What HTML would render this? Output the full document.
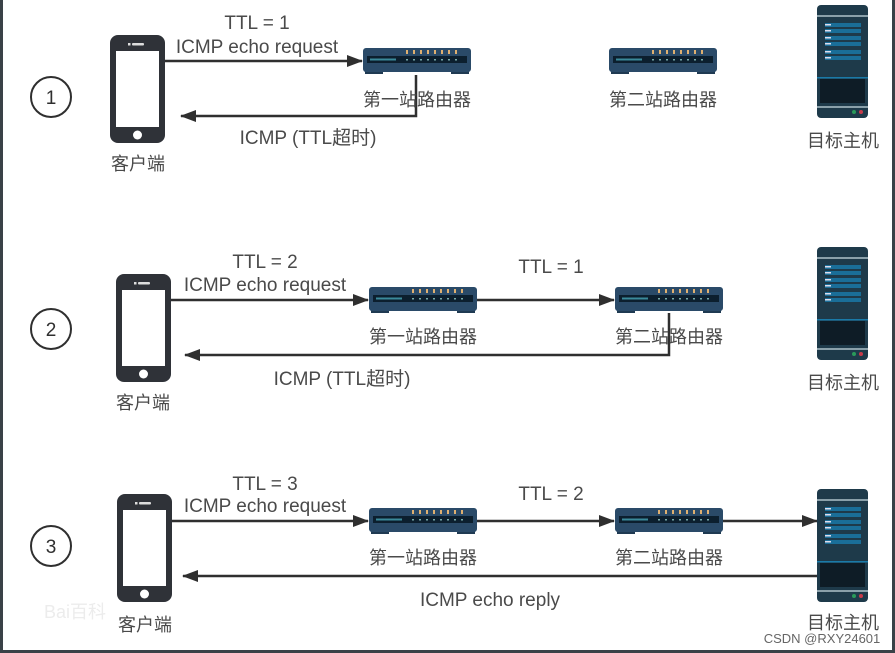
<!DOCTYPE html>
<html><head><meta charset="utf-8"><style>
html,body{margin:0;padding:0;background:#fff;}
svg{display:block;}
text{font-family:"Liberation Sans","Noto Sans CJK SC",sans-serif;fill:#4a4a4a;font-size:18px;}
.l{font-size:19px;}
</style></head><body>
<svg width="895" height="653" viewBox="0 0 895 653" xmlns="http://www.w3.org/2000/svg">
<defs>
<g id="phone">
<rect x="0" y="0" width="55" height="108" rx="8" fill="#2f3238"/>
<rect x="6" y="16" width="43" height="76" fill="#fff"/>
<rect x="22" y="8" width="12" height="2.5" rx="1" fill="#ddd"/>
<rect x="18" y="8" width="2.5" height="2.5" fill="#ddd"/>
<circle cx="27.5" cy="100" r="4.5" fill="#fff"/>
</g>
<g id="router">
<rect x="2" y="24" width="18" height="4" fill="#1f3a52"/>
<rect x="88" y="24" width="18" height="4" fill="#1f3a52"/>
<rect x="0" y="2" width="108" height="24" rx="3" fill="#2a4a68"/>
<rect x="4" y="10" width="100" height="7" fill="#0c1f2e"/>
<rect x="7" y="12.5" width="26" height="2" fill="#3a8a9a"/>
<g fill="#e0b070"><rect x="43" y="4" width="2" height="4"/><rect x="50" y="4" width="2" height="4"/><rect x="57" y="4" width="2" height="4"/><rect x="64" y="4" width="2" height="4"/><rect x="71" y="4" width="2" height="4"/><rect x="78" y="4" width="2" height="4"/><rect x="85" y="4" width="2" height="4"/><rect x="92" y="4" width="2" height="4"/></g>
<g fill="#7aa"><rect x="43" y="13" width="2" height="1.5"/><rect x="50" y="13" width="2" height="1.5"/><rect x="57" y="13" width="2" height="1.5"/><rect x="64" y="13" width="2" height="1.5"/><rect x="71" y="13" width="2" height="1.5"/><rect x="78" y="13" width="2" height="1.5"/><rect x="85" y="13" width="2" height="1.5"/><rect x="92" y="13" width="2" height="1.5"/></g>
</g>
<g id="server">
<rect x="0" y="0" width="51" height="113" rx="4" fill="#1e3a4a"/>
<rect x="0" y="10" width="51" height="2" fill="#8aa0aa"/>
<g fill="#1a6e98"><rect x="8" y="18" width="36" height="4"/><rect x="8" y="24" width="36" height="4"/><rect x="8" y="31" width="36" height="4"/><rect x="8" y="37" width="36" height="4"/><rect x="8" y="45" width="36" height="4"/><rect x="8" y="51" width="36" height="4"/></g>
<g fill="#dde"><rect x="8" y="19" width="6" height="1.5"/><rect x="8" y="25" width="6" height="1.5"/><rect x="8" y="32" width="6" height="1.5"/><rect x="8" y="38" width="6" height="1.5"/><rect x="8" y="46" width="6" height="1.5"/><rect x="8" y="52" width="6" height="1.5"/></g>
<rect x="0" y="72" width="51" height="1.5" fill="#1a7aa8"/>
<rect x="3" y="74" width="45" height="24" fill="#0e1c26"/>
<rect x="0" y="101" width="51" height="2" fill="#8aa0aa"/>
<circle cx="37" cy="107" r="2" fill="#2a9a5a"/>
<circle cx="44" cy="107" r="2" fill="#c83a4a"/>
</g>
<marker id="ah" markerWidth="16" markerHeight="12" refX="15" refY="6" orient="auto" markerUnits="userSpaceOnUse">
<path d="M0,0 L16,6 L0,12 Z" fill="#2f2f2f"/>
</marker>
</defs>
<g stroke="#2f2f2f" stroke-width="2.5" fill="none">
<line x1="165" y1="61" x2="362" y2="61" marker-end="url(#ah)"/>
<polyline points="416,75 416,116 181,116" marker-end="url(#ah)"/>
<line x1="171" y1="300" x2="368" y2="300" marker-end="url(#ah)"/>
<line x1="477" y1="300" x2="614" y2="300" marker-end="url(#ah)"/>
<polyline points="669,313 669,355 185,355" marker-end="url(#ah)"/>
<line x1="172" y1="521" x2="368" y2="521" marker-end="url(#ah)"/>
<line x1="477" y1="521" x2="614" y2="521" marker-end="url(#ah)"/>
<line x1="723" y1="521" x2="817" y2="521" marker-end="url(#ah)"/>
<line x1="817" y1="576" x2="183" y2="576" marker-end="url(#ah)"/>
</g>
<g fill="none" stroke="#2f2f2f" stroke-width="2">
<circle cx="51" cy="97" r="20"/><circle cx="51" cy="329" r="20"/><circle cx="51" cy="546" r="20"/>
</g>
<g text-anchor="middle">
<text x="51" y="104" style="font-size:19px;fill:#2f2f2f">1</text>
<text x="51" y="336" style="font-size:19px;fill:#2f2f2f">2</text>
<text x="51" y="553" style="font-size:19px;fill:#2f2f2f">3</text>
</g>
<use href="#phone" x="110" y="35"/>
<use href="#phone" x="116" y="274"/>
<use href="#phone" x="117" y="494"/>
<use href="#router" x="363" y="46"/>
<use href="#router" x="609" y="46"/>
<use href="#router" x="369" y="285"/>
<use href="#router" x="615" y="285"/>
<use href="#router" x="369" y="506"/>
<use href="#router" x="615" y="506"/>
<use href="#server" x="817" y="5"/>
<use href="#server" x="817" y="247"/>
<use href="#server" x="817" y="489"/>
<g text-anchor="middle">
<text class="l" x="257" y="29">TTL = 1</text>
<text class="l" x="257" y="53">ICMP echo request</text>
<text x="417" y="106">第一站路由器</text>
<text x="663" y="106">第二站路由器</text>
<text class="l" x="308" y="144">ICMP (TTL超时)</text>
<text x="138" y="170">客户端</text>
<text x="843" y="147">目标主机</text>

<text class="l" x="265" y="268">TTL = 2</text>
<text class="l" x="265" y="291">ICMP echo request</text>
<text class="l" x="551" y="273">TTL = 1</text>
<text x="423" y="343">第一站路由器</text>
<text x="669" y="343">第二站路由器</text>
<text class="l" x="342" y="385">ICMP (TTL超时)</text>
<text x="143" y="409">客户端</text>
<text x="843" y="389">目标主机</text>

<text class="l" x="265" y="490">TTL = 3</text>
<text class="l" x="265" y="512">ICMP echo request</text>
<text class="l" x="551" y="500">TTL = 2</text>
<text x="423" y="564">第一站路由器</text>
<text x="669" y="564">第二站路由器</text>
<text class="l" x="490" y="606">ICMP echo reply</text>
<text x="145" y="631">客户端</text>
<text x="843" y="629">目标主机</text>
</g>
<text x="75" y="618" style="font-size:18px;fill:#ececec" text-anchor="middle">Bai百科</text>
<text x="822" y="643" text-anchor="middle" style="font-size:13px;fill:#666">CSDN @RXY24601</text>
<rect x="0" y="0" width="3" height="653" fill="#3a4147"/>
<rect x="0" y="650" width="895" height="3" fill="#3a4147"/>
<rect x="892" y="0" width="3" height="653" fill="#3a4147"/>
</svg>
</body></html>
